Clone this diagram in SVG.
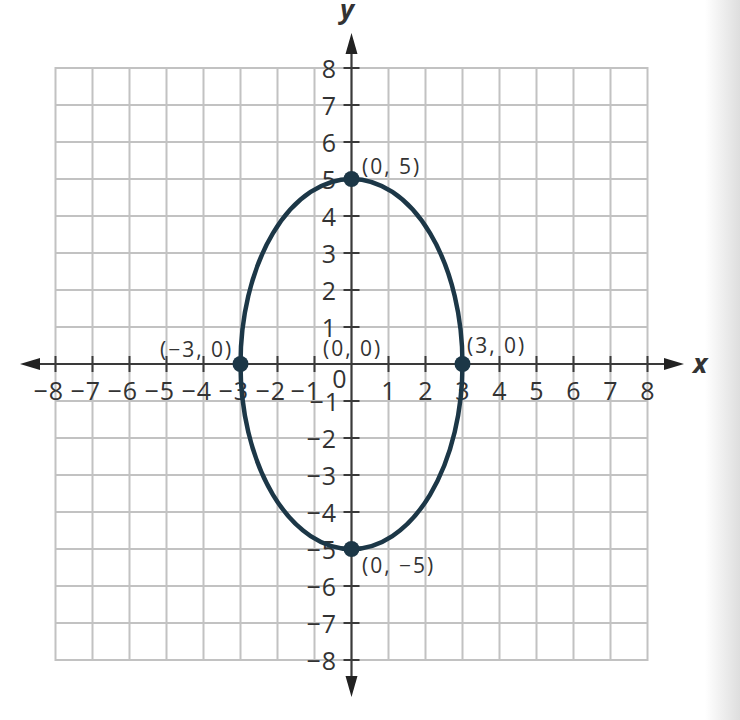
<svg xmlns="http://www.w3.org/2000/svg" width="740" height="720" viewBox="0 0 740 720">
<defs>
<linearGradient id="bg" x1="0" y1="0" x2="1" y2="0">
<stop offset="0" stop-color="#ffffff"/>
<stop offset="1" stop-color="#dedede"/>
</linearGradient>
<style>
.grid{stroke:#c2c2c2;stroke-width:2;fill:none}
.axis{stroke:#3a3a3a;stroke-width:2.2;fill:none}
.tick{stroke:#3a3a3a;stroke-width:2}
.num{font-family:"Open Sans","DejaVu Sans",sans-serif;font-size:25px;fill:#333;letter-spacing:1px}
.pl{font-family:"Open Sans","DejaVu Sans",sans-serif;font-size:21px;fill:#333;letter-spacing:2px}
.var{font-family:"Open Sans","DejaVu Sans",sans-serif;font-size:27px;font-style:italic;font-weight:bold;fill:#333}
.curve{stroke:#1c3747;stroke-width:4.5;fill:none}
.pt{fill:#1c3747}
</style>
</defs>
<rect x="0" y="0" width="740" height="720" fill="#ffffff"/>
<rect x="705" y="0" width="35" height="720" fill="url(#bg)"/>
<g id="grid" class="grid">
<rect x="55.5" y="68" width="592" height="592"/>
<path d="M92.5 68V660M129.5 68V660M166.5 68V660M203.5 68V660M240.5 68V660M277.5 68V660M314.5 68V660M388.5 68V660M425.5 68V660M462.5 68V660M499.5 68V660M536.5 68V660M573.5 68V660M610.5 68V660"/>
<path d="M55.5 105H647.5M55.5 142H647.5M55.5 179H647.5M55.5 216H647.5M55.5 253H647.5M55.5 290H647.5M55.5 327H647.5M55.5 401H647.5M55.5 438H647.5M55.5 475H647.5M55.5 512H647.5M55.5 549H647.5M55.5 586H647.5M55.5 623H647.5"/>
</g>
<g id="axes">
<path class="axis" d="M30 364H673M351.5 45V685"/>
<polygon points="20,364 40,358 40,370" fill="#222"/>
<polygon points="684,364 664,358 664,370" fill="#222"/>
<polygon points="351.5,33 345.5,54 357.5,54" fill="#222"/>
<polygon points="351.5,697 345.5,676 357.5,676" fill="#222"/>
<path class="tick" d="M55.5 356V372M92.5 356V372M129.5 356V372M166.5 356V372M203.5 356V372M240.5 356V372M277.5 356V372M314.5 356V372M388.5 356V372M425.5 356V372M462.5 356V372M499.5 356V372M536.5 356V372M573.5 356V372M610.5 356V372M647.5 356V372"/>
<path class="tick" d="M343.5 68H359.5M343.5 105H359.5M343.5 142H359.5M343.5 179H359.5M343.5 216H359.5M343.5 253H359.5M343.5 290H359.5M343.5 327H359.5M343.5 401H359.5M343.5 438H359.5M343.5 475H359.5M343.5 512H359.5M343.5 549H359.5M343.5 586H359.5M343.5 623H359.5M343.5 660H359.5"/>
<text class="var" x="693" y="373">x</text>
<text class="var" x="340" y="19">y</text>
</g>
<g id="xlabels" class="num">
<text x="64" y="400" text-anchor="end">−8</text>
<text x="101" y="400" text-anchor="end">−7</text>
<text x="138" y="400" text-anchor="end">−6</text>
<text x="175" y="400" text-anchor="end">−5</text>
<text x="212" y="400" text-anchor="end">−4</text>
<text x="249" y="400" text-anchor="end">−3</text>
<text x="286" y="400" text-anchor="end">−2</text>
<text x="321" y="400" text-anchor="end">−1</text>
<text x="340" y="388" text-anchor="middle">0</text>
<text x="389" y="400" text-anchor="middle">1</text>
<text x="426" y="400" text-anchor="middle">2</text>
<text x="463" y="400" text-anchor="middle">3</text>
<text x="500" y="400" text-anchor="middle">4</text>
<text x="537" y="400" text-anchor="middle">5</text>
<text x="574" y="400" text-anchor="middle">6</text>
<text x="611" y="400" text-anchor="middle">7</text>
<text x="648" y="400" text-anchor="middle">8</text>
</g>
<g id="ylabels" class="num" text-anchor="end">
<text x="337" y="78">8</text>
<text x="337" y="115">7</text>
<text x="337" y="152">6</text>
<text x="337" y="189">5</text>
<text x="337" y="226">4</text>
<text x="337" y="263">3</text>
<text x="337" y="300">2</text>
<text x="337" y="337">1</text>
<text x="340" y="411">−1</text>
<text x="337" y="448">−2</text>
<text x="337" y="485">−3</text>
<text x="337" y="522">−4</text>
<text x="337" y="559">−5</text>
<text x="337" y="596">−6</text>
<text x="337" y="633">−7</text>
<text x="337" y="670">−8</text>
</g>
<g id="ellipse">
<ellipse class="curve" cx="351.5" cy="364" rx="111" ry="185"/>
</g>
<g id="p-left"><circle class="pt" cx="240.5" cy="364" r="8"/><text class="pl" x="160" y="357">(−3, 0)</text></g>
<g id="p-origin"><text class="pl" x="323" y="356">(0, 0)</text></g>
<g id="p-right"><circle class="pt" cx="462.5" cy="364" r="8"/><text class="pl" x="467" y="353">(3, 0)</text></g>
<g id="p-top"><circle class="pt" cx="351.5" cy="179" r="8"/><text class="pl" x="362" y="174">(0, 5)</text></g>
<g id="p-bottom"><circle class="pt" cx="351.5" cy="549" r="8"/><text class="pl" x="362" y="573">(0, −5)</text></g>
</svg>
